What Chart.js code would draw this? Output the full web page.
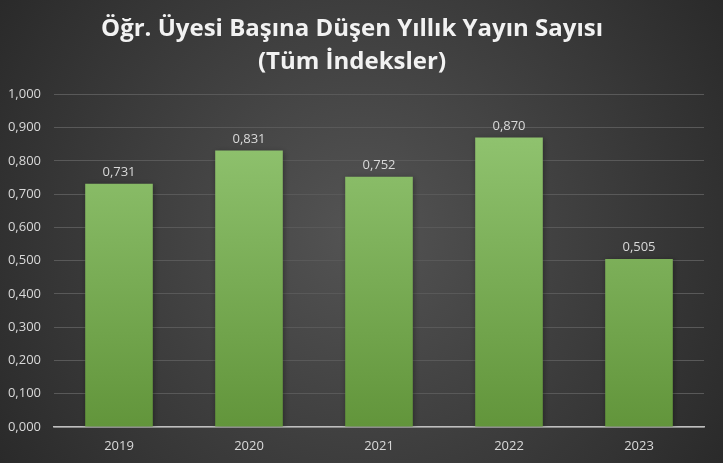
<!DOCTYPE html>
<html>
<head>
<meta charset="utf-8">
<script src="https://cdn.jsdelivr.net/npm/chart.js@4"></script>
<style>
  html, body { margin: 0; padding: 0; background: #3a3a3a; }
  #wrap { width: 723px; height: 463px; }
</style>
</head>
<body>
<div id="wrap"><canvas id="myChart" width="723" height="463"></canvas></div>
<script>
const years = ['2019', '2020', '2021', '2022', '2023'];
const values = [0.731, 0.831, 0.752, 0.870, 0.505];
const yTicks = [0, 0.1, 0.2, 0.3, 0.4, 0.5, 0.6, 0.7, 0.8, 0.9, 1.0];
const titleLines = ['Öğr. Üyesi Başına Düşen Yıllık Yayın Sayısı', '(Tüm İndeksler)'];

const fmt = v => v.toFixed(3).replace('.', ',');

// koyu radyal arka plan
const bgPlugin = {
    id: 'bg',
    beforeDraw(chart) {
        const { ctx, width, height } = chart;
        const g = ctx.createRadialGradient(width / 2, height / 2, 20, width / 2, height / 2, width * 0.65);
        g.addColorStop(0, '#525252');
        g.addColorStop(1, '#262626');
        ctx.save();
        ctx.fillStyle = g;
        ctx.fillRect(0, 0, width, height);
        ctx.restore();
    }
};

// bar uzerindeki degerler
const labelPlugin = {
    id: 'valLabels',
    afterDatasetsDraw(chart) {
        const { ctx } = chart;
        const meta = chart.getDatasetMeta(0);
        ctx.save();
        ctx.font = '13px "Open Sans", sans-serif';
        ctx.fillStyle = '#d9d9d9';
        ctx.textAlign = 'center';
        ctx.textBaseline = 'bottom';
        meta.data.forEach((bar, i) => {
            ctx.fillText(fmt(values[i]), bar.x, bar.y - 5);
        });
        ctx.restore();
    }
};

const shadowPlugin = {
    id: 'barShadow',
    beforeDatasetsDraw(chart) {
        chart.ctx.save();
        chart.ctx.shadowColor = 'rgba(0,0,0,0.35)';
        chart.ctx.shadowBlur = 6;
        chart.ctx.shadowOffsetX = 1;
        chart.ctx.shadowOffsetY = 1;
    },
    afterDatasetsDraw(chart) {
        chart.ctx.restore();
    }
};

document.addEventListener("DOMContentLoaded", () => {
    const ctx = document.getElementById('myChart');
    new Chart(ctx, {
        type: 'bar',
        data: {
            labels: years,
            datasets: [{
                data: values,
                categoryPercentage: 1,
                barPercentage: 0.52,
                backgroundColor: (c) => {
                    const area = c.chart.chartArea;
                    if (!area) return '#7fb35a';
                    const g = c.chart.ctx.createLinearGradient(0, area.top, 0, area.bottom);
                    g.addColorStop(0, '#96c976');
                    g.addColorStop(1, '#62953b');
                    return g;
                },
                borderWidth: 0
            }]
        },
        options: {
            responsive: false,
            animation: false,
            layout: { padding: { left: 0, right: 19, top: 0, bottom: 0 } },
            plugins: {
                legend: { display: false },
                tooltip: { enabled: false },
                title: {
                    display: true,
                    text: titleLines,
                    color: '#f2f2f2',
                    font: { family: '"Open Sans", sans-serif', size: 24, weight: 'bold', lineHeight: 1.36 },
                    padding: { top: 13, bottom: 16 }
                }
            },
            scales: {
                x: {
                    grid: { display: false, drawTicks: false },
                    border: { color: '#bfbfbf', width: 1.5 },
                    afterFit: (axis) => { axis.height = 36; },
                    ticks: { color: '#d9d9d9', font: { family: '"Open Sans", sans-serif', size: 13 }, padding: 11 }
                },
                y: {
                    min: 0,
                    max: 1,
                    afterBuildTicks: (axis) => { axis.ticks = yTicks.map(v => ({ value: v })); },
                    afterFit: (axis) => { axis.width = 54; },
                    grid: { color: '#595959', drawTicks: false },
                    border: { display: false },
                    ticks: {
                        color: '#d9d9d9',
                        font: { family: '"Open Sans", sans-serif', size: 13 },
                        padding: 13,
                        callback: (v) => fmt(v)
                    }
                }
            }
        },
        plugins: [bgPlugin, shadowPlugin, labelPlugin]
    });
});
</script>
</body>
</html>
